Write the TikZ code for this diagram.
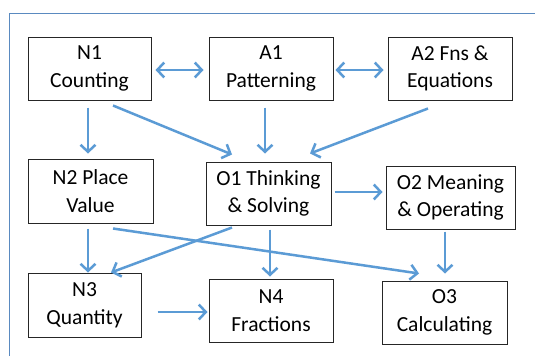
\documentclass[tikz,border=0pt]{standalone}
\usepackage{fontspec}
\setmainfont{Carlito}
\usetikzlibrary{arrows.meta,calc}
\definecolor{arr}{HTML}{5B9BD5}
\definecolor{frm}{HTML}{5A8AC0}
\tikzset{
  box/.style={draw=black!85, line width=1pt, align=center, inner sep=0pt,
    font=\fontsize{21.5}{27.5}\selectfont},
  tip/.tip={Straight Barb[length=7pt,width=15pt,line width=2.5pt]},
  conn/.style={draw=arr, line width=2.5pt, -tip},
  bconn/.style={conn, tip-tip},
}
\begin{document}
\begin{tikzpicture}[x=1pt,y=-1pt]
\useasboundingbox (0,0) rectangle (540,356);
\fill[white] (0,0) rectangle (540,356);
\draw[frm, line width=1pt] (9,356) -- (9,13) -- (535,13);

\node[box, minimum width=123, minimum height=63] (N1) at (89.5,68.5) {N1\\Counting};
\node[box, minimum width=124, minimum height=63] (A1) at (271,68.5) {A1\\Patterning};
\node[box, minimum width=124, minimum height=63] (A2) at (450,68.5) {A2 Fns \&\\Equations};
\node[box, minimum width=125, minimum height=64] (N2) at (90.5,191) {N2 Place\\Value};
\node[box, minimum width=125, minimum height=63] (O1) at (268.5,193.5) {O1 Thinking\\\& Solving};
\node[box, minimum width=129, minimum height=63] (O2) at (450.5,197.5) {O2 Meaning\\\& Operating};
\node[box, minimum width=113, minimum height=64] (N3) at (84.5,305) {N3\\Quantity};
\node[box, minimum width=124, minimum height=63] (N4) at (271,310.5) {N4\\Fractions};
\node[box, minimum width=125, minimum height=63] (O3) at (444.5,312.5) {O3\\Calculating};

\draw[bconn] ($(N1.east)+(4,1.5)$) -- ($(A1.west)+(-5,1.5)$);
\draw[bconn] ($(A1.east)+(2,1.5)$) -- ($(A2.west)+(-4,1.5)$);
\draw[conn] ($(N1.south)+(-1.5,7)$) -- ($(N2.north)+(-2.5,-5)$);
\draw[conn] ($(N1.south)+(23.5,5)$) -- ($(O1.north)+(-36.5,-7)$);
\draw[conn] ($(A1.south)+(-6,7)$) -- ($(O1.north)+(-3.5,-8)$);
\draw[conn] ($(A2.south)+(-22,8)$) -- ($(O1.north)+(41.5,-8)$);
\draw[conn] ($(O1.east)+(3,-1.5)$) -- ($(O2.west)+(-3,-5.5)$);
\draw[conn] ($(N2.south)+(-2.5,5)$) -- ($(N3.north)+(3.5,0)$);
\draw[conn] ($(N2.south)+(22.5,5)$) -- ($(O3.north)+(-25.5,-7)$);
\draw[conn] ($(O1.south)+(-36.5,2)$) -- ($(N3.north)+(26.5,0)$);
\draw[conn] ($(O1.south)+(1.5,4)$) -- ($(N4.north)+(-1,-2)$);
\draw[conn] ($(O2.south)+(-5.5,2)$) -- ($(O3.north)+(0.5,-7)$);
\draw[conn] ($(N3.east)+(16,7)$) -- ($(N4.west)+(-1,1.5)$);
\end{tikzpicture}
\end{document}
